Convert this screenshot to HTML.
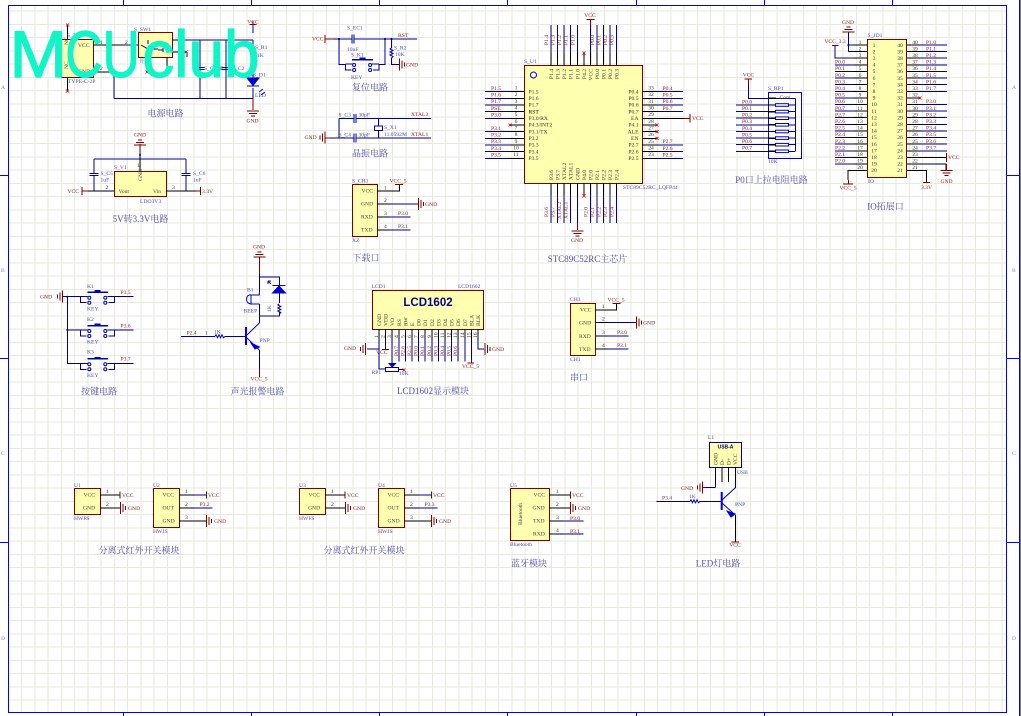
<!DOCTYPE html>
<html><head><meta charset="utf-8"><title>MCUclub schematic</title>
<style>
html,body{margin:0;padding:0;background:#fff;width:1021px;height:716px;overflow:hidden}
svg{display:block;position:absolute;left:0;top:0}
text{font-family:"Liberation Serif","Noto Serif CJK SC",serif;font-size:5.6px;white-space:pre}
.n{fill:none;stroke:#000090;stroke-width:1;shape-rendering:crispEdges}
.p{fill:none;stroke:#000;stroke-width:1;shape-rendering:crispEdges}
.m{fill:none;stroke:#800000;stroke-width:1;shape-rendering:crispEdges}
.box{fill:#ffffb0;stroke:#800000;stroke-width:1}
.r{fill:#4a4ab0}
.d{fill:#8a2020}
.k{fill:#333}
.g{fill:#444}
.t{fill:#5050a8;font-size:9px}
.c{text-anchor:middle}
.e{text-anchor:end}
.w{font:66px "Liberation Sans",sans-serif;fill:#10f5c8;stroke:#10f5c8;stroke-width:1.2;stroke-linejoin:round}
</style></head><body>
<svg xmlns="http://www.w3.org/2000/svg" width="1021" height="716" viewBox="0 0 1021 716">
<defs>
<g id="gr"><path d="M0 -6V6M2.5 -4V4M5 -2V2" stroke="#800000" fill="none" stroke-width="1" shape-rendering="crispEdges"/></g>
<g id="gl"><path d="M0 -6V6M-2.5 -4V4M-5 -2V2" stroke="#800000" fill="none" stroke-width="1" shape-rendering="crispEdges"/></g>
<g id="gd"><path d="M-6 0H6M-4 2.5H4M-2 5H2" stroke="#800000" fill="none" stroke-width="1" shape-rendering="crispEdges"/></g>
<g id="gu"><path d="M-2 0H2M-4 2.5H4M-6 5H6" stroke="#800000" fill="none" stroke-width="1" shape-rendering="crispEdges"/></g>
<g id="rh"><path d="M-5 0L-4 -1.5L-2.5 1.5L-1 -1.5L.5 1.5L2 -1.5L3.5 1.5L5 0" fill="none" stroke="#0000b0"/></g>
<g id="rv"><path d="M0 -5L-1.5 -4L1.5 -2.5L-1.5 -1L1.5 .5L-1.5 2L1.5 3.5L0 5" fill="none" stroke="#0000b0"/></g>
<g id="capv"><path d="M-4.5 -1.2H4.5M-4.5 1.2H4.5" fill="none" stroke="#0000b0" stroke-width="1" shape-rendering="crispEdges"/></g>
<g id="caph"><path d="M-1.2 -4.5V4.5M1.2 -4.5V4.5" fill="none" stroke="#0000b0" stroke-width="1" shape-rendering="crispEdges"/></g>
<g id="key"><path d="M0 0V6H6M0 0H7M33.6 0V6H27.6M33.6 0H26.6" fill="none" stroke="#000090" shape-rendering="crispEdges"/><circle cx="8.6" cy="1" r="1.5" fill="#fff" stroke="#0000b0"/><circle cx="8.6" cy="6" r="1.5" fill="#fff" stroke="#0000b0"/><circle cx="24.6" cy="1" r="1.5" fill="#fff" stroke="#0000b0"/><circle cx="24.6" cy="6" r="1.5" fill="#fff" stroke="#0000b0"/><path d="M6.6 -4.4H27.4" stroke="#0000b0" stroke-width="1.6" shape-rendering="crispEdges"/><path d="M14 -5.8H20" stroke="#0000b0" stroke-width="1.4" shape-rendering="crispEdges"/></g>
<g id="x"><path d="M-1.5 -1.5L1.5 1.5M-1.5 1.5L1.5 -1.5" stroke="#e00000" stroke-width=".8" fill="none"/></g>
</defs>
<rect width="1021" height="716" fill="#fff"/>
<path shape-rendering="crispEdges" stroke="#e8e8de" stroke-width="1" fill="none" d="M21.6 6V712M34.85 6V712M48.1 6V712M61.35 6V712M74.6 6V712M87.85 6V712M101.1 6V712M114.35 6V712M127.6 6V712M140.85 6V712M154.1 6V712M167.35 6V712M180.6 6V712M193.85 6V712M207.1 6V712M220.35 6V712M233.6 6V712M246.85 6V712M260.1 6V712M273.35 6V712M286.6 6V712M299.85 6V712M313.1 6V712M326.35 6V712M339.6 6V712M352.85 6V712M366.1 6V712M379.35 6V712M392.6 6V712M405.85 6V712M419.1 6V712M432.35 6V712M445.6 6V712M458.85 6V712M472.1 6V712M485.35 6V712M498.6 6V712M511.85 6V712M525.1 6V712M538.35 6V712M551.6 6V712M564.85 6V712M578.1 6V712M591.35 6V712M604.6 6V712M617.85 6V712M631.1 6V712M644.35 6V712M657.6 6V712M670.85 6V712M684.1 6V712M697.35 6V712M710.6 6V712M723.85 6V712M737.1 6V712M750.35 6V712M763.6 6V712M776.85 6V712M790.1 6V712M803.35 6V712M816.6 6V712M829.85 6V712M843.1 6V712M856.35 6V712M869.6 6V712M882.85 6V712M896.1 6V712M909.35 6V712M922.6 6V712M935.85 6V712M949.1 6V712M962.35 6V712M975.6 6V712M988.85 6V712M1002.1 6V712M9 11H1006M9 24.3H1006M9 37.5H1006M9 50.8H1006M9 64H1006M9 77.3H1006M9 90.5H1006M9 103.8H1006M9 117H1006M9 130.3H1006M9 143.5H1006M9 156.8H1006M9 170H1006M9 183.3H1006M9 196.5H1006M9 209.8H1006M9 223H1006M9 236.3H1006M9 249.5H1006M9 262.8H1006M9 276H1006M9 289.3H1006M9 302.5H1006M9 315.8H1006M9 329H1006M9 342.3H1006M9 355.5H1006M9 368.8H1006M9 382H1006M9 395.3H1006M9 408.5H1006M9 421.8H1006M9 435H1006M9 448.3H1006M9 461.5H1006M9 474.8H1006M9 488H1006M9 501.3H1006M9 514.5H1006M9 527.8H1006M9 541H1006M9 554.3H1006M9 567.5H1006M9 580.8H1006M9 594H1006M9 607.3H1006M9 620.5H1006M9 633.8H1006M9 647H1006M9 660.3H1006M9 673.5H1006M9 686.8H1006M9 700H1006"/>
<path d="M8.5 5.5H1006.5V712.5H8.5Z" fill="none" stroke="#0000ff" stroke-width="1"/>
<path d="M1019.5 0V716" stroke="#0000ff"/><path d="M1020.5 0V716" stroke="#808080"/>
<path d="M123.5 0V5M251.5 0V5M379.5 0V5M507.5 0V5M636.5 0V5M764.5 0V5M892.5 0V5M123.5 712V716M251.5 712V716M379.5 712V716M507.5 712V716M636.5 712V716M764.5 712V716M892.5 712V716M0 175.5H8M0 358.5H8M0 542.5H8M1007 175.5H1019M1007 358.5H1019M1007 542.5H1019" stroke="#0000ff" fill="none"/>
<g fill="#8080f0"><text x="1" y="89">A</text><text x="1" y="272">B</text><text x="1" y="455">C</text><text x="1" y="640">D</text><text x="1012" y="89">A</text><text x="1012" y="272">B</text><text x="1012" y="455">C</text><text x="1012" y="640">D</text></g>

<!-- Power -->
<rect class="box" x="61.5" y="39.5" width="32" height="38"/>
<rect class="box" x="138.5" y="32.5" width="34" height="25"/>
<path class="p" d="M67.5 39V25M67.5 77V91M93 45H125M93 72H114M172 40H180M172 52H180M147 57V72M167 57V67"/>
<path class="n" d="M125 45H138M114 72V98.5M180 40H253M180 52H187M187 52V57M114 98.5H253M200 40V98.5M226 40V98.5M253 25V33M253 40V47M253 58V78M253 88V98.5"/>
<path class="m" d="M253 25V21M253 98.5V110"/><path class="m" d="M249.5 24.5H256.5"/>
<use href="#gd" x="253" y="111"/>
<use href="#capv" x="200" y="68.5"/><use href="#capv" x="226" y="68.5"/>
<use href="#rv" x="253" y="53"/>
<path d="M247 78H259L253 85.5ZM247 86H259" fill="#0000d0" stroke="#0000d0"/>
<path d="M141 45L148 49L158 49M158 50H163M148 44V40M163 52V48" fill="none" stroke="#0000b0"/>
<use href="#x" x="67.5" y="25"/><use href="#x" x="67.5" y="91"/><use href="#x" x="186" y="52"/><use href="#x" x="147" y="72"/>
<text class="r" x="67" y="37">S_T1</text><text class="g" x="78" y="47">VCC</text><text class="g" x="78" y="73">GND</text><text class="g" x="70" y="47" transform="rotate(-90 68 47)">NC</text><text class="g" x="70" y="71" transform="rotate(-90 68 71)">NC</text>
<text class="r" x="68" y="83">TYPE-C-2P</text><text class="k" x="100" y="44">1</text><text class="k" x="100" y="70">2</text><text class="k" x="125" y="44">2</text>
<text class="r" x="134" y="31">S_SW1</text><text class="r" x="139" y="63">开关</text>
<text class="d c" x="253" y="23.5">VCC</text><text class="r" x="255" y="49">S_R1</text><text class="r" x="257" y="57">1K</text><text class="r" x="253" y="76.5">S_D1</text><text class="r" x="255" y="97">LED</text>
<text class="d c" x="252.5" y="122.5">GND</text><text class="r" x="204" y="70">S_C1</text><text class="r" x="232" y="70">S_C2</text><text class="r" x="220" y="70">F</text>
<path d="M263 89L259 92M265 92L261 95" stroke="#0000d0" fill="none"/>
<text class="t c" x="165.5" y="116.5">电源电路</text>

<!-- 3.3V -->
<rect class="box" x="114.5" y="171.5" width="52" height="25"/>
<path class="n" d="M94 159H186M94 159V173M94 176V191M186 159V173M186 176V191M94 191H98M186 191H182M140 159V153"/>
<path class="p" d="M87 191H114M166 191H197M140 172V153"/>
<path class="m" d="M82 191H88M196 191H201M82 187V195M200.5 187V195M140 144V153"/>
<use href="#gu" x="140" y="140"/>
<use href="#capv" x="94" y="174.5"/><use href="#capv" x="186" y="174.5"/>
<circle cx="140" cy="155" r="1" fill="#000090"/>
<text class="d c" x="140" y="136.5">GND</text><text class="r" x="114" y="169">S_V1</text>
<text class="d" x="67.5" y="193">VCC</text><text class="d" x="202" y="193">3.3V</text>
<text class="g" x="118.5" y="193">Vout</text><text class="g" x="153" y="193">Vin</text>
<text class="g" x="142" y="181" transform="rotate(-90 142 181)">GND</text>
<text class="k" x="105.5" y="189">2</text><text class="k" x="172" y="189">3</text><text class="k" x="137" y="167">1</text>
<text class="r" x="100.5" y="175">S_C5</text><text class="r" x="100.5" y="181.5">1uF</text><text class="r" x="193" y="175">S_C6</text><text class="r" x="193" y="181.5">1uF</text>
<text class="r" x="140" y="203">LDO3V3</text>
<text class="t c" x="140.5" y="222">5V转3.3V电路</text>

<!-- Reset -->
<path class="m" d="M325 35V43M325 39H333"/>
<path class="n" d="M333 39H351.5M354.5 39H417M339 39V64.3H345M385 39V64.3H379M391.5 39V48M391.5 58V64.3H400"/>
<use href="#caph" x="353" y="39"/><use href="#rv" x="391.5" y="53"/>
<use href="#key" x="345.5" y="64"/>
<use href="#gr" x="399.5" y="64.5"/>
<circle cx="339" cy="39" r="1.1" fill="#000090"/><circle cx="385" cy="39" r="1.1" fill="#000090"/><circle cx="391.5" cy="39" r="1.1" fill="#000090"/>
<text class="d" x="312" y="40.5">VCC</text><text class="r" x="347" y="29.5">S_EC1</text><text class="r" x="347" y="51">10uF</text><text class="r" x="351" y="56.5">S_K1</text><text class="r" x="351" y="79">KEY</text><text class="d" x="398" y="37">RST</text><text class="r" x="394" y="49.5">S_R2</text><text class="r" x="395" y="56">10K</text><text class="d" x="406" y="66.5">GND</text>
<text class="t c" x="370" y="90.5">复位电路</text>

<!-- Crystal -->
<path class="n" d="M339 118.3V138.3M339 118.3H353.5M356.5 118.3H431M328 138H353.5M356.5 138H431M378.3 118.3V126M378.3 131V138"/>
<path class="m" d="M325 138H330"/>
<use href="#caph" x="355" y="118.3"/><use href="#caph" x="355" y="138"/>
<use href="#gl" x="325" y="137.7"/>
<rect x="374.5" y="126" width="8" height="4.5" fill="#fff" stroke="#0000b0"/>
<text class="d" x="304.5" y="139">GND</text><text class="r" x="338.5" y="116.5">S_C3</text><text class="r" x="358.5" y="116.5">30pF</text><text class="r" x="338.5" y="136.5">S_C4</text><text class="r" x="358.5" y="136.5">30pF</text><text class="r" x="384" y="129">S_X1</text><text class="r" x="384" y="136">11.0592M</text>
<text class="d" x="411" y="116">XTAL2</text><text class="d" x="411" y="136">XTAL1</text>
<text class="t c" x="370" y="156.5">晶振电路</text>

<!-- Download -->
<rect class="box" x="352.5" y="184.5" width="25" height="52"/>
<path class="p" d="M377 191H399.5V185M377 204H390M377 217H390M377 230H390"/>
<path class="n" d="M390 204H418M390 217H410.5M390 230H410.5"/>
<path class="m" d="M395 184.5H403"/>
<use href="#gr" x="418.5" y="204"/>
<text class="r" x="352" y="182.5">S_CH1</text><text class="g" x="361.5" y="192.5">VCC</text><text class="g" x="361" y="205.5">GND</text><text class="g" x="361" y="218.5">RXD</text><text class="g" x="361" y="231.5">TXD</text>
<text class="k" x="384" y="189.5">1</text><text class="k" x="384" y="202">2</text><text class="k" x="384" y="215">3</text><text class="k" x="384" y="228">4</text>
<text class="d c" x="398" y="182.5">VCC_5</text><text class="d" x="425" y="206">GND</text><text class="d" x="398" y="215">P3.0</text><text class="d" x="398" y="228">P3.1</text><text class="r" x="352" y="242">XZ</text>
<text class="t c" x="366" y="261">下载口</text>

<!-- MCU -->
<rect class="box" x="524.5" y="65.5" width="118" height="118"/>
<circle cx="533.5" cy="75" r="3" fill="none" stroke="#0000ff"/>
<path class="p" d="M551 66V53M557.5 66V53M564 66V53M570.5 66V53M577.5 66V53M584 66V53M590.5 66V53M597 66V53M603.5 66V53M610 66V53M616.5 66V53M551 183V195M557.5 183V195M564 183V195M570.5 183V195M577.5 183V195M584 183V195M590.5 183V195M597 183V195M603.5 183V195M610 183V195M616.5 183V195M524 91.7H510M524 98.3H510M524 105H510M524 111.7H510M524 118.3H510M524 125H510M524 131.7H510M524 138.3H510M524 145H510M524 151.7H510M524 158.3H510M642 91.7H657M642 98.3H657M642 105H657M642 111.7H657M642 118.3H684M642 125H657M642 131.7H657M642 138.3H657M642 145H657M642 151.7H657M642 158.3H657"/>
<path class="n" d="M551 53V25M557.5 53V25M564 53V25M570.5 53V25M577.5 53V25M590.5 53V25M597 53V25M603.5 53V25M610 53V25M616.5 53V25M551 195V223M557.5 195V223M564 195V223M570.5 195V223M577.5 195V223M590.5 195V223M597 195V223M603.5 195V223M610 195V223M616.5 195V223M510 91.7H485M510 98.3H485M510 105H485M510 111.7H485M510 118.3H485M510 131.7H485M510 138.3H485M510 145H485M510 151.7H485M510 158.3H485M657 91.7H683M657 98.3H683M657 105H683M657 111.7H683M657 145H683M657 151.7H683M657 158.3H683"/>
<path class="m" d="M590.5 25V19.5M586.5 19.5H594.5M577.5 223V230M684 118.3H690M690 114V122.5"/>
<use href="#gd" x="577.3" y="231"/>
<use href="#x" x="584" y="53"/><use href="#x" x="584" y="196"/><use href="#x" x="510" y="125"/><use href="#x" x="657" y="125"/><use href="#x" x="657" y="131.7"/><use href="#x" x="657" y="138.3"/>
<text class="r" x="524" y="63">S_U1</text><text class="r" x="623" y="189">STC89C52RC_LQFP44</text>
<text class="d c" x="590" y="17">VCC</text><text class="d c" x="577" y="242">GND</text><text class="d" x="692" y="120">VCC</text>
<g class="k">
<text x="528.5" y="93.5">P1.5</text><text x="528.5" y="100">P1.6</text><text x="528.5" y="106.5">P1.7</text><text x="528.5" y="113.5" fill="#000">RST</text><text x="528.5" y="120">P3.0/RX</text><text x="528.5" y="126.5">P4.3/INT2</text><text x="528.5" y="133.5">P3.1/TX</text><text x="528.5" y="140">P3.2</text><text x="528.5" y="146.5">P3.3</text><text x="528.5" y="153.5">P3.4</text><text x="528.5" y="160">P3.5</text>
<text class="e" x="638.5" y="93.5">P0.4</text><text class="e" x="638.5" y="100">P0.5</text><text class="e" x="638.5" y="106.5">P0.6</text><text class="e" x="638.5" y="113.5">P0.7</text><text class="e" x="638.5" y="120">EA</text><text class="e" x="638.5" y="126.5">P4.1</text><text class="e" x="638.5" y="133.5">ALE</text><text class="e" x="638.5" y="140">EN</text><text class="e" x="638.5" y="146.5">P2.7</text><text class="e" x="638.5" y="153.5">P2.6</text><text class="e" x="638.5" y="160">P2.5</text>
<text class="e" transform="rotate(-90 553 69)" x="553" y="69">P1.4</text><text class="e" transform="rotate(-90 559.5 69)" x="559.5" y="69">P1.3</text><text class="e" transform="rotate(-90 566 69)" x="566" y="69">P1.2</text><text class="e" transform="rotate(-90 572.5 69)" x="572.5" y="69">P1.1</text><text class="e" transform="rotate(-90 579.5 69)" x="579.5" y="69">P1.0</text><text class="e" transform="rotate(-90 586 69)" x="586" y="69">P4.2</text><text class="e" transform="rotate(-90 592.5 69)" x="592.5" y="69">VCC</text><text class="e" transform="rotate(-90 599 69)" x="599" y="69">P0.0</text><text class="e" transform="rotate(-90 605.5 69)" x="605.5" y="69">P0.1</text><text class="e" transform="rotate(-90 612 69)" x="612" y="69">P0.2</text><text class="e" transform="rotate(-90 618.5 69)" x="618.5" y="69">P0.3</text>
<text transform="rotate(-90 553 180)" x="553" y="180">P3.6</text><text transform="rotate(-90 559.5 180)" x="559.5" y="180">P3.7</text><text transform="rotate(-90 566 180)" x="566" y="180">XTAL2</text><text transform="rotate(-90 572.5 180)" x="572.5" y="180">XTAL1</text><text transform="rotate(-90 579.5 180)" x="579.5" y="180">GND</text><text transform="rotate(-90 586 180)" x="586" y="180">P4.0</text><text transform="rotate(-90 592.5 180)" x="592.5" y="180">P2.0</text><text transform="rotate(-90 599 180)" x="599" y="180">P2.1</text><text transform="rotate(-90 605.5 180)" x="605.5" y="180">P2.2</text><text transform="rotate(-90 612 180)" x="612" y="180">P2.3</text><text transform="rotate(-90 618.5 180)" x="618.5" y="180">P2.4</text>
<text x="516" y="89.5" class="c">1</text><text x="516" y="96" class="c">2</text><text x="516" y="103" class="c">3</text><text x="516" y="109.5" class="c">4</text><text x="516" y="116" class="c">5</text><text x="516" y="123" class="c">6</text><text x="516" y="129.5" class="c">7</text><text x="516" y="136" class="c">8</text><text x="516" y="143" class="c">9</text><text x="516" y="149.5" class="c">10</text><text x="516" y="156" class="c">11</text>
<text x="651" y="89.5" class="c">33</text><text x="651" y="96" class="c">32</text><text x="651" y="103" class="c">31</text><text x="651" y="109.5" class="c">30</text><text x="651" y="116" class="c">29</text><text x="651" y="123" class="c">28</text><text x="651" y="129.5" class="c">27</text><text x="651" y="136" class="c">26</text><text x="651" y="143" class="c">25</text><text x="651" y="149.5" class="c">24</text><text x="651" y="156" class="c">23</text>
</g>
<g class="d">
<text x="491" y="90">P1.5</text><text x="491" y="96.5">P1.6</text><text x="491" y="103">P1.7</text><text x="491" y="110">PSE</text><text x="491" y="116.5">P3.0</text><text x="491" y="130">P3.1</text><text x="491" y="136.5">P3.2</text><text x="491" y="143">P3.3</text><text x="491" y="150">P3.4</text><text x="491" y="156.5">P3.5</text>
<text x="662.5" y="90">P0.4</text><text x="662.5" y="96.5">P0.5</text><text x="662.5" y="103">P0.6</text><text x="662.5" y="110">P0.7</text><text x="662.5" y="143">P2.7</text><text x="662.5" y="150">P2.6</text><text x="662.5" y="156.5">P2.5</text>
<text class="e" transform="rotate(-90 548 35)" x="548" y="35">P1.4</text><text class="e" transform="rotate(-90 554.5 35)" x="554.5" y="35">P1.3</text><text class="e" transform="rotate(-90 561 35)" x="561" y="35">P1.2</text><text class="e" transform="rotate(-90 567.5 35)" x="567.5" y="35">P1.1</text><text class="e" transform="rotate(-90 574.5 35)" x="574.5" y="35">P1.0</text><text class="e" transform="rotate(-90 594 35)" x="594" y="35">P0.0</text><text class="e" transform="rotate(-90 600.5 35)" x="600.5" y="35">P0.1</text><text class="e" transform="rotate(-90 607 35)" x="607" y="35">P0.2</text><text class="e" transform="rotate(-90 613.5 35)" x="613.5" y="35">P0.3</text>
<text transform="rotate(-90 548 217)" x="548" y="217">P3.6</text><text transform="rotate(-90 554.5 217)" x="554.5" y="217">P3.7</text><text transform="rotate(-90 561 219)" x="561" y="219">XTAL2</text><text transform="rotate(-90 567.5 219)" x="567.5" y="219">XTAL1</text><text transform="rotate(-90 587.5 217)" x="587.5" y="217">P2.0</text><text transform="rotate(-90 594 217)" x="594" y="217">P2.1</text><text transform="rotate(-90 600.5 217)" x="600.5" y="217">P2.2</text><text transform="rotate(-90 607 217)" x="607" y="217">P2.3</text><text transform="rotate(-90 613.5 217)" x="613.5" y="217">P2.4</text>
</g>
<text class="t c" x="587.5" y="262">STC89C52RC主芯片</text>

<!-- P0 Pull-up -->
<path d="M768.5 92.5H801.5V158.5H768.5Z" fill="none" stroke="#0000d0"/>
<path class="m" d="M744.5 79H752M748.5 79V85"/>
<path class="n" d="M748.5 85V98.3H768M795.7 98.3V151.2M736 105H768M736 111.6H768M736 118.2H768M736 124.8H768M736 131.5H768M736 138.1H768M736 144.7H768M736 151.3H768M788 105H795.7M788 111.6H795.7M788 118.2H795.7M788 124.8H795.7M788 131.5H795.7M788 138.1H795.7M788 144.7H795.7M788 151.3H795.7M776 98.3H795.7"/>
<path shape-rendering="crispEdges" d="M768 98.3H776M768 105H776M768 111.6H776M768 118.2H776M768 124.8H776M768 131.5H776M768 138.1H776M768 144.7H776M768 151.3H776" stroke="#000" stroke-width="1.4" fill="none"/>
<g fill="#fff" stroke="#0000c0"><rect x="775.5" y="103.7" width="13" height="2.6"/><rect x="775.5" y="110.3" width="13" height="2.6"/><rect x="775.5" y="116.9" width="13" height="2.6"/><rect x="775.5" y="123.5" width="13" height="2.6"/><rect x="775.5" y="130.2" width="13" height="2.6"/><rect x="775.5" y="136.8" width="13" height="2.6"/><rect x="775.5" y="143.4" width="13" height="2.6"/><rect x="775.5" y="150" width="13" height="2.6"/></g>
<text class="d c" x="748.5" y="76.5">VCC</text><text class="r" x="768" y="90">S_RP1</text><text class="g" x="779.5" y="99">Com</text><text class="r" x="768" y="163">10K</text>
<g class="d"><text x="742" y="103.5">P0.0</text><text x="742" y="110">P0.1</text><text x="742" y="116.5">P0.2</text><text x="742" y="123">P0.3</text><text x="742" y="130">P0.4</text><text x="742" y="136.5">P0.5</text><text x="742" y="143">P0.6</text><text x="742" y="149.5">P0.7</text></g>
<text class="t c" x="771.5" y="183">P0口上拉电阻电路</text>

<!-- IO header -->
<rect class="box" x="867.5" y="39.5" width="39" height="138"/>
<path class="p" d="M867 45H854M867 51.6H854M867 58.2H854M867 64.9H854M867 71.5H854M867 78.1H854M867 84.7H854M867 91.3H854M867 97.9H854M867 104.5H854M867 111.1H854M867 117.7H854M867 124.3H854M867 131H854M867 137.6H854M867 144.2H854M867 150.8H854M867 157.4H854M867 164H854M867 170.6H848V180M907 45H920M907 51.6H920M907 58.2H920M907 64.9H920M907 71.5H920M907 78.1H920M907 84.7H920M907 91.3H920M907 97.9H920M907 104.5H920M907 111.1H920M907 117.7H920M907 124.3H920M907 131H920M907 137.6H920M907 144.2H920M907 150.8H920M907 157.4H946M907 164H946V170M907 170.6H926.7V182"/>
<path class="n" d="M854 64.9H835M854 71.5H835M854 78.1H835M854 84.7H835M854 91.3H835M854 97.9H835M854 104.5H835M854 111.1H835M854 117.7H835M854 124.3H835M854 131H835M854 137.6H835M854 144.2H835M854 150.8H835M854 157.4H835M854 164H835M920 45H947M920 51.6H947M920 58.2H947M920 64.9H947M920 71.5H947M920 78.1H947M920 84.7H947M920 91.3H947M920 104.5H947M920 111.1H947M920 117.7H947M920 124.3H947M920 131H947M920 137.6H947M920 144.2H947M920 150.8H947M848.3 32V51.6H854M848.3 45H854M835 46V58.2H854"/>
<path class="m" d="M832 45.5H838.5M946.7 153V162M843 184H853M923 182.5H930M848.3 180V184M946.7 164V170"/>
<use href="#gu" x="848.3" y="27"/><use href="#gd" x="946.7" y="170.5"/>
<use href="#x" x="920" y="98"/>
<circle cx="848.3" cy="45" r="1" fill="#000090"/>
<text class="d c" x="848" y="24">GND</text><text class="d c" x="835" y="43">VCC_3.3</text><text class="r" x="867.5" y="37">S_JD1</text>
<text class="d c" x="848" y="189.5">VCC_5</text><text class="d c" x="926.5" y="189">3.3V</text><text class="d" x="948" y="159">VCC</text><text class="d c" x="946.5" y="183">GND</text><text class="r" x="868" y="183">IO</text>
<g class="k c">
<text x="860" y="44">1</text><text x="860" y="50.5">2</text><text x="860" y="57">3</text><text x="860" y="63.5">4</text><text x="860" y="70">5</text><text x="860" y="77">6</text><text x="860" y="83.5">7</text><text x="860" y="90">8</text><text x="860" y="96.5">9</text><text x="860" y="103">10</text><text x="860" y="110">11</text><text x="860" y="116.5">12</text><text x="860" y="123">13</text><text x="860" y="129.5">14</text><text x="860" y="136">15</text><text x="860" y="143">16</text><text x="860" y="149.5">17</text><text x="860" y="156">18</text><text x="860" y="162.5">19</text><text x="860" y="169">20</text>
<text x="874" y="47">1</text><text x="874" y="53.5">2</text><text x="874" y="60">3</text><text x="874" y="66.5">4</text><text x="874" y="73">5</text><text x="874" y="80">6</text><text x="874" y="86.5">7</text><text x="874" y="93">8</text><text x="874" y="99.5">9</text><text x="874" y="106">10</text><text x="874" y="113">11</text><text x="874" y="119.5">12</text><text x="874" y="126">13</text><text x="874" y="132.5">14</text><text x="874" y="139">15</text><text x="874" y="146">16</text><text x="874" y="152.5">17</text><text x="874" y="159">18</text><text x="874" y="165.5">19</text><text x="874" y="172">20</text>
<text x="900" y="47">40</text><text x="900" y="53.5">39</text><text x="900" y="60">38</text><text x="900" y="66.5">37</text><text x="900" y="73">36</text><text x="900" y="80">35</text><text x="900" y="86.5">34</text><text x="900" y="93">33</text><text x="900" y="99.5">32</text><text x="900" y="106">31</text><text x="900" y="113">30</text><text x="900" y="119.5">29</text><text x="900" y="126">28</text><text x="900" y="132.5">27</text><text x="900" y="139">26</text><text x="900" y="146">25</text><text x="900" y="152.5">24</text><text x="900" y="159">23</text><text x="900" y="165.5">22</text><text x="900" y="172">21</text>
<text x="915" y="44">40</text><text x="915" y="50.5">39</text><text x="915" y="57">38</text><text x="915" y="63.5">37</text><text x="915" y="70">36</text><text x="915" y="77">35</text><text x="915" y="83.5">34</text><text x="915" y="90">33</text><text x="915" y="96.5">32</text><text x="915" y="103">31</text><text x="915" y="110">30</text><text x="915" y="116.5">29</text><text x="915" y="123">28</text><text x="915" y="129.5">27</text><text x="915" y="136">26</text><text x="915" y="143">25</text><text x="915" y="149.5">24</text><text x="915" y="156">23</text><text x="915" y="162.5">22</text><text x="915" y="169">21</text>
</g>
<g class="d">
<text x="835" y="63.5">P0.0</text><text x="835" y="70">P0.1</text><text x="835" y="77">P0.2</text><text x="835" y="83.5">P0.3</text><text x="835" y="90">P0.4</text><text x="835" y="96.5">P0.5</text><text x="835" y="103">P0.6</text><text x="835" y="110">P0.7</text><text x="835" y="116.5">P2.7</text><text x="835" y="123">P2.6</text><text x="835" y="129.5">P2.5</text><text x="835" y="136">P2.4</text><text x="835" y="143">P2.3</text><text x="835" y="149.5">P2.2</text><text x="835" y="156">P2.1</text><text x="835" y="162.5">P2.0</text>
<text x="926" y="44">P1.0</text><text x="926" y="50.5">P1.1</text><text x="926" y="57">P1.2</text><text x="926" y="63.5">P1.3</text><text x="926" y="70">P1.4</text><text x="926" y="77">P1.5</text><text x="926" y="83.5">P1.6</text><text x="926" y="90">P1.7</text><text x="926" y="103">P3.0</text><text x="926" y="110">P3.1</text><text x="926" y="116.5">P3.2</text><text x="926" y="123">P3.3</text><text x="926" y="129.5">P3.4</text><text x="926" y="136">P3.5</text><text x="926" y="143">P3.6</text><text x="926" y="149.5">P3.7</text>
</g>
<text class="t c" x="885.5" y="209.5">IO拓展口</text>

<!-- Keys -->
<path class="n" d="M63 296.7H81M67.3 296.7V363.3H81M67.3 330H81M114.3 296.7H133.5M114.3 330H133.5M114.3 363.3H133.5"/>
<use href="#gl" x="62.5" y="296.7"/>
<use href="#key" x="80.7" y="296.7"/><use href="#key" x="80.7" y="330"/><use href="#key" x="80.7" y="363.3"/>
<circle cx="67.3" cy="296.7" r="1" fill="#000090"/><circle cx="67.3" cy="330" r="1" fill="#000090"/>
<text class="d" x="40" y="298.5">GND</text>
<text class="r" x="87" y="288">K1</text><text class="r" x="87" y="321">K2</text><text class="r" x="87" y="353.5">K3</text>
<text class="r" x="87" y="310.5">KEY</text><text class="r" x="87" y="343.5">KEY</text><text class="r" x="87" y="377">KEY</text>
<text class="d" x="120.5" y="294">P3.5</text><text class="d" x="120.5" y="327.5">P3.6</text><text class="d" x="120.5" y="360.5">P3.7</text>
<text class="t c" x="99" y="394.5">按键电路</text>

<!-- Buzzer -->
<path class="m" d="M259.3 257V274M259.3 369V377"/>
<path class="n" d="M259.3 274V292M259.3 277H279.3V286M279.3 293V303M279.3 312V316H259.3V304M259.3 316V323M181 336.3H215M225 336.3H246M259.3 350V369"/>
<use href="#gu" x="259.3" y="252"/>
<path d="M272.5 293H285.5L279 286ZM272.5 285.5H285.5" fill="#0000d0" stroke="#0000d0"/>
<path d="M268 281L271 284M268 281V284M268 281H271" stroke="#0000d0" fill="none"/>
<use href="#rv" x="279.3" y="309"/><use href="#rh" x="220" y="336.3"/>
<path d="M259.3 292V295H251V304H259.3M251 295C245 294 245 304 251 304" fill="none" stroke="#0000c0"/>
<path d="M246 327V345" stroke="#0000e0" stroke-width="2"/>
<path d="M247 335L259.3 323M247 338L259.3 350" stroke="#0000c0" fill="none"/>
<path d="M259.3 347L251 343L255 349Z" fill="#0000d0" stroke="#0000d0"/>
<text class="d c" x="259" y="248.5">GND</text><text class="r" x="247" y="291.5">B1</text><text class="r" x="243.5" y="312.5">BEEP</text><text class="r" x="271" y="312" transform="rotate(-90 271 312)">1K</text>
<text class="d" x="186.5" y="334.5">P2.4</text><text class="k" x="205" y="334.5">1</text><text class="r" x="214" y="333.5">1K</text><text class="r" x="259.5" y="342">PNP</text>
<text class="d c" x="259" y="380.5">VCC_5</text>
<text class="t c" x="257.5" y="394.5">声光报警电路</text>

<!-- LCD -->
<rect class="box" x="372.5" y="290.5" width="111" height="39"/>
<text x="428" y="306" style="font:bold 11.5px 'Liberation Sans',sans-serif;fill:#000090" class="c">LCD1602</text>
<path class="p" d="M379 329V340M385.6 329V340M392.2 329V340M398.8 329V340M405.4 329V340M412 329V340M418.6 329V340M425.2 329V340M431.8 329V340M438.4 329V340M445 329V340M451.6 329V340M458.2 329V340M464.8 329V340M471.4 329V340M478 329V340"/>
<path class="n" d="M379 340V369H385.5M367 349H379M385.6 340V349M392.2 340V363M398.8 340V361.5M405.4 340V361.5M412 340V361.5M418.6 340V361.5M425.2 340V361.5M431.8 340V361.5M438.4 340V361.5M445 340V361.5M451.6 340V361.5M458.2 340V361.5M464.8 340V361.5M471.4 340V360M478 340V349H484M398.5 369.5H404"/>
<path class="m" d="M382 349.5H389M467.5 363H474M471.4 360V363"/>
<use href="#gl" x="365.5" y="349"/><use href="#gr" x="485" y="349"/>
<rect x="385.5" y="367.5" width="13" height="4" fill="#fff" stroke="#000090"/>
<path d="M392.2 367V363M389 363.5H395.5L392.2 367Z" fill="#0000d0" stroke="#0000d0"/>
<use href="#x" x="404" y="370"/>
<g class="k">
<text transform="rotate(-90 381 326)" x="381" y="326">GND</text><text transform="rotate(-90 387.6 326)" x="387.6" y="326">VDD</text><text transform="rotate(-90 394.2 326)" x="394.2" y="326">VO</text><text transform="rotate(-90 400.8 326)" x="400.8" y="326">RS</text><text transform="rotate(-90 407.4 326)" x="407.4" y="326">RW</text><text transform="rotate(-90 414 326)" x="414" y="326">E</text><text transform="rotate(-90 420.6 326)" x="420.6" y="326">D0</text><text transform="rotate(-90 427.2 326)" x="427.2" y="326">D1</text><text transform="rotate(-90 433.8 326)" x="433.8" y="326">D2</text><text transform="rotate(-90 440.4 326)" x="440.4" y="326">D3</text><text transform="rotate(-90 447 326)" x="447" y="326">D4</text><text transform="rotate(-90 453.6 326)" x="453.6" y="326">D5</text><text transform="rotate(-90 460.2 326)" x="460.2" y="326">D6</text><text transform="rotate(-90 466.8 326)" x="466.8" y="326">D7</text><text transform="rotate(-90 473.4 326)" x="473.4" y="326">BLA</text><text transform="rotate(-90 480 326)" x="480" y="326">BLK</text>
<text transform="rotate(-90 378 338)" x="378" y="338">1</text><text transform="rotate(-90 384.6 338)" x="384.6" y="338">2</text><text transform="rotate(-90 391.2 338)" x="391.2" y="338">3</text><text transform="rotate(-90 397.8 338)" x="397.8" y="338">4</text><text transform="rotate(-90 404.4 338)" x="404.4" y="338">5</text><text transform="rotate(-90 411 338)" x="411" y="338">6</text><text transform="rotate(-90 417.6 338)" x="417.6" y="338">7</text><text transform="rotate(-90 424.2 338)" x="424.2" y="338">8</text><text transform="rotate(-90 430.8 338)" x="430.8" y="338">9</text><text transform="rotate(-90 437.4 338)" x="437.4" y="338">10</text><text transform="rotate(-90 444 338)" x="444" y="338">11</text><text transform="rotate(-90 450.6 338)" x="450.6" y="338">12</text><text transform="rotate(-90 457.2 338)" x="457.2" y="338">13</text><text transform="rotate(-90 463.8 338)" x="463.8" y="338">14</text><text transform="rotate(-90 470.4 338)" x="470.4" y="338">15</text><text transform="rotate(-90 477 338)" x="477" y="338">16</text>
</g>
<g class="d">
<text transform="rotate(-90 397.8 356)" x="397.8" y="356">P0.7</text><text transform="rotate(-90 404.4 356)" x="404.4" y="356">P2.6</text><text transform="rotate(-90 411 356)" x="411" y="356">P2.5</text><text transform="rotate(-90 417.6 356)" x="417.6" y="356">P0.0</text><text transform="rotate(-90 424.2 356)" x="424.2" y="356">P0.1</text><text transform="rotate(-90 430.8 356)" x="430.8" y="356">P0.2</text><text transform="rotate(-90 437.4 356)" x="437.4" y="356">P0.3</text><text transform="rotate(-90 444 356)" x="444" y="356">P0.4</text><text transform="rotate(-90 450.6 356)" x="450.6" y="356">P0.5</text><text transform="rotate(-90 457.2 356)" x="457.2" y="356">P0.6</text>
<text x="344" y="350">GND</text><text x="492" y="351">GND</text><text x="376" y="354">VCC</text><text x="462" y="368">VCC_5</text>
</g>
<text class="r" x="371.5" y="288">LCD1</text><text class="r" x="458" y="288">LCD1602</text><text class="r" x="371.5" y="374">RP1</text><text class="r" x="399" y="375">10K</text>
<text class="t c" x="433" y="394">LCD1602显示模块</text>

<!-- Serial -->
<rect class="box" x="570.5" y="303.5" width="25" height="52"/>
<path class="p" d="M595 310H616.7V304M595 322.7H608M595 336H608M595 349H608"/>
<path class="n" d="M608 322.7H636M608 336H628.7M608 349H628.7"/>
<path class="m" d="M612.5 303.5H620.5"/>
<use href="#gr" x="636.5" y="322.7"/>
<text class="r" x="570" y="301">CH1</text><text class="r" x="570" y="361">CH1</text>
<text class="g" x="580" y="311.5">VCC</text><text class="g" x="579" y="324.5">GND</text><text class="g" x="579" y="338">RXD</text><text class="g" x="579" y="351">TXD</text>
<text class="k" x="602" y="308">1</text><text class="k" x="602" y="320.5">2</text><text class="k" x="602" y="334">3</text><text class="k" x="602" y="347">4</text>
<text class="d c" x="616" y="301.5">VCC_5</text><text class="d" x="643" y="324.5">GND</text><text class="d" x="617" y="334">P3.0</text><text class="d" x="617" y="347">P3.1</text>
<text class="t c" x="579" y="380.5">串口</text>

<!-- IR 1 -->
<g id="ir">
<rect class="box" x="74.5" y="488.5" width="26" height="26"/>
<rect class="box" x="153.5" y="488.5" width="26" height="39"/>
<path class="p" d="M100 495H120M100 508H120M179 495H194M179 508H194M179 521H206"/>
<path class="n" d="M194 495H206M194 508H212.7"/>
<path class="m" d="M120 491.5V498.5M206.5 491.5V498.5"/>
<use href="#gr" x="120.5" y="508"/><use href="#gr" x="206.5" y="521"/>
<text class="r" x="74" y="487">U1</text><text class="r" x="153" y="487">U2</text><text class="r" x="74" y="520">HWFS</text><text class="r" x="153" y="533">HWJS</text>
<text class="g" x="83.5" y="496.5">VCC</text><text class="g" x="83" y="509.5">GND</text><text class="g" x="162.5" y="496.5">VCC</text><text class="g" x="162.5" y="509.5">OUT</text><text class="g" x="162.5" y="522.5">GND</text>
<text class="k" x="106" y="493">1</text><text class="k" x="106" y="506">2</text><text class="k" x="185" y="493">1</text><text class="k" x="185" y="506">2</text><text class="k" x="185" y="519">3</text>
<text class="d" x="122" y="497">VCC</text><text class="d" x="128" y="510">GND</text><text class="d" x="208" y="497">VCC</text><text class="d" x="199.5" y="506">P3.2</text><text class="d" x="214" y="523">GND</text>
<text class="t c" x="139" y="553.5">分离式红外开关模块</text>
</g>
<g transform="translate(225 0)">
<rect class="box" x="74.5" y="488.5" width="26" height="26"/>
<rect class="box" x="153.5" y="488.5" width="26" height="39"/>
<path class="p" d="M100 495H120M100 508H120M179 495H194M179 508H194M179 521H206"/>
<path class="n" d="M194 495H206M194 508H212.7"/>
<path class="m" d="M120 491.5V498.5M206.5 491.5V498.5"/>
<use href="#gr" x="120.5" y="508"/><use href="#gr" x="206.5" y="521"/>
<text class="r" x="74" y="487">U3</text><text class="r" x="153" y="487">U4</text><text class="r" x="74" y="520">HWFS</text><text class="r" x="153" y="533">HWJS</text>
<text class="g" x="83.5" y="496.5">VCC</text><text class="g" x="83" y="509.5">GND</text><text class="g" x="162.5" y="496.5">VCC</text><text class="g" x="162.5" y="509.5">OUT</text><text class="g" x="162.5" y="522.5">GND</text>
<text class="k" x="106" y="493">1</text><text class="k" x="106" y="506">2</text><text class="k" x="185" y="493">1</text><text class="k" x="185" y="506">2</text><text class="k" x="185" y="519">3</text>
<text class="d" x="122" y="497">VCC</text><text class="d" x="128" y="510">GND</text><text class="d" x="208" y="497">VCC</text><text class="d" x="199.5" y="506">P3.3</text><text class="d" x="214" y="523">GND</text>
<text class="t c" x="139" y="553.5">分离式红外开关模块</text>
</g>

<!-- Bluetooth -->
<rect class="box" x="510.5" y="488.5" width="39" height="52"/>
<path class="p" d="M549 495H570M549 508H570M549 521H563M549 534H563"/>
<path class="n" d="M563 521H583.5M563 534H583.5"/>
<path class="m" d="M570.5 491.5V498.5"/>
<use href="#gr" x="570.5" y="508"/>
<text class="r" x="510" y="487">U5</text><text class="r" x="510" y="546">Bluetooth</text>
<text class="g c" transform="rotate(-90 522 514)" x="522" y="514">Bluetooth</text>
<text class="g" x="533.5" y="496.5">VCC</text><text class="g" x="532.5" y="509.5">GND</text><text class="g" x="533" y="522.5">TXD</text><text class="g" x="533" y="535.5">RXD</text>
<text class="k" x="556" y="493">1</text><text class="k" x="556" y="506">2</text><text class="k" x="556" y="519">3</text><text class="k" x="556" y="532">4</text>
<text class="d" x="572" y="497">VCC</text><text class="d" x="578" y="510">GND</text><text class="d" x="570" y="520">P3.0</text><text class="d" x="570" y="533">P3.1</text>
<text class="t c" x="529" y="566.5">蓝牙模块</text>

<!-- LED USB -->
<rect x="709.5" y="442.5" width="32" height="25" fill="#ffffb0" stroke="#000090"/>
<text class="c" x="725.5" y="448.5" style="font:bold 5px 'Liberation Sans',sans-serif;fill:#000080">USB-A</text>
<path class="p" d="M715.3 467V487.5M722 467V482M728.7 467V482M735.3 467V488M735.3 515V541"/>
<path class="n" d="M706 487.7H715.3M656.7 501.3H690M700 501.3H721.7"/>
<path class="m" d="M735.3 541V542M731.5 542H739M703 487.7H706"/>
<use href="#gl" x="702.5" y="487.7"/>
<use href="#rh" x="695" y="501.3"/>
<path d="M721.7 492V510" stroke="#0000e0" stroke-width="2"/>
<path d="M722 500L735.3 487.7M722 503L735.3 515" stroke="#0000c0" fill="none"/>
<path d="M735 514L727 511L731 517Z" fill="#0000d0" stroke="#0000d0"/>
<g class="k"><text transform="rotate(-90 717.5 465)" x="717.5" y="465">GND</text><text transform="rotate(-90 724 465)" x="724" y="465">D-</text><text transform="rotate(-90 730.5 465)" x="730.5" y="465">D+</text><text transform="rotate(-90 737 465)" x="737" y="465">VCC</text></g>
<text class="r" x="708" y="439">L1</text><text class="r" x="737" y="474">USB</text><text class="d" x="681" y="490">GND</text><text class="d" x="662" y="499.5">P3.4</text><text class="r" x="689" y="498">1K</text><text class="r" x="735" y="506">PNP</text><text class="d c" x="735" y="546.5">VCC</text>
<text class="t c" x="718" y="566.5">LED灯电路</text>

<!-- Watermark -->
<text class="w" transform="translate(9.5 77) scale(1.05 1)">M</text>
<text class="w" transform="translate(65.4 77) scale(.78 1)">CU</text>
<text class="w" transform="translate(142.4 77) scale(.967 1)">club</text>
</svg>
</body></html>
